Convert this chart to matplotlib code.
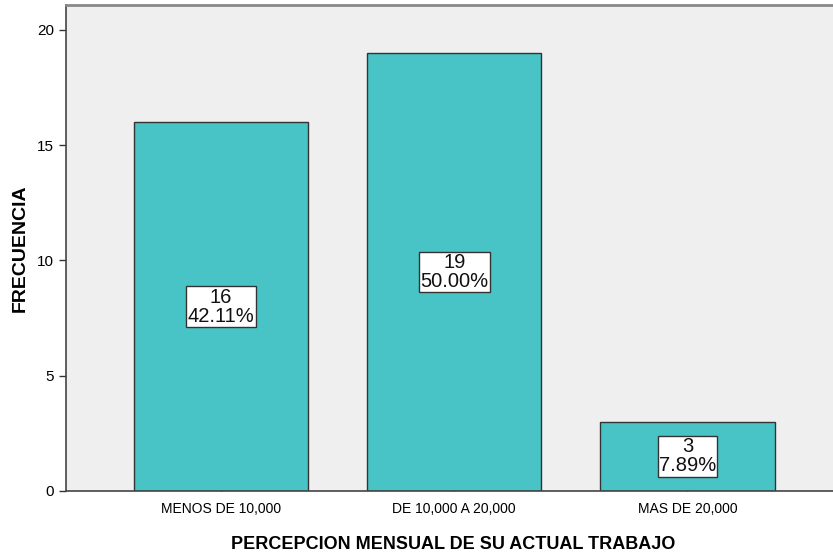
import matplotlib
matplotlib.use("Agg")
import matplotlib.pyplot as plt

plt.rcParams['font.family'] = ['Liberation Sans', 'DejaVu Sans']

categories = ["MENOS DE 10,000", "DE 10,000 A 20,000", "MAS DE 20,000"]
counts = [16, 19, 3]
percents = ["42.11%", "50.00%", "7.89%"]
yticks = [0, 5, 10, 15, 20]

fig = plt.figure(figsize=(8.33, 5.57), dpi=100)
ax = fig.add_axes([66/833, 1 - 491/557, 1 - 66/833 + 0.01, (491 - 5)/557])
ax.set_facecolor('#EFEFEF')

x = list(range(len(categories)))
ax.bar(x, counts, width=0.748, color='#48C3C6', edgecolor='#333333', linewidth=1.0, zorder=2)

for xi, c, p in zip(x, counts, percents):
    ax.text(xi, c / 2, f"{c}\n{p}", ha='center', va='center', fontsize=14.5,
            linespacing=1.0, color='#111111', zorder=3,
            bbox=dict(boxstyle='square,pad=0.06', facecolor='white', edgecolor='#333333', linewidth=1.0))

ax.set_xlim(-0.665, 2.66)
ax.set_ylim(0, 21.08)
ax.set_yticks(yticks)
ax.set_xticks(x)
ax.set_xticklabels(categories, fontsize=10)
ax.tick_params(axis='y', labelsize=11, length=5, width=1, color='#333333')
ax.tick_params(axis='x', length=5, width=1, color='#333333', direction='in', pad=8)

for s in ['left', 'bottom']:
    ax.spines[s].set_color('#444444')
    ax.spines[s].set_linewidth(1.2)
ax.spines['right'].set_visible(False)
ax.spines['top'].set_color('#888888')
ax.spines['top'].set_linewidth(2)

ax.set_ylabel('FRECUENCIA', fontsize=14, fontweight='bold')
ax.yaxis.set_label_coords(-(66 - 29) / (833 - 66), 0.5)
ax.set_xlabel('PERCEPCION MENSUAL DE SU ACTUAL TRABAJO', fontsize=13, fontweight='bold', labelpad=14)

fig.savefig('out.png', dpi=100)
